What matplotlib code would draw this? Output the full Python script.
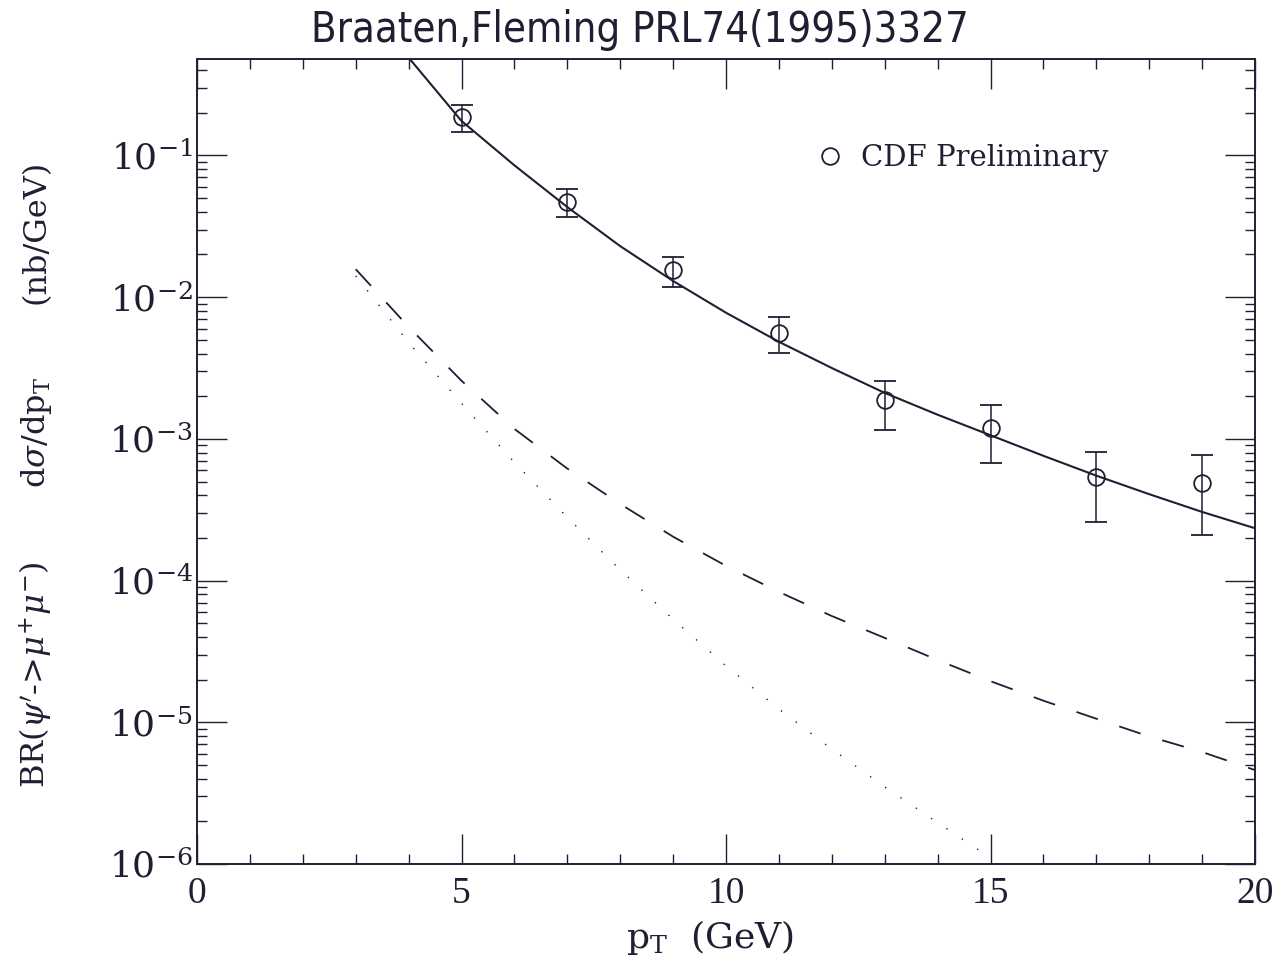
import numpy as np
import matplotlib
matplotlib.use("Agg")
import matplotlib.pyplot as plt
from matplotlib import font_manager as fm
from matplotlib.lines import Line2D
from matplotlib.ticker import MultipleLocator, LogLocator, FuncFormatter, NullFormatter

# CDF preliminary psi' points (pT in GeV, nb/GeV)
pt_data = [5, 7, 9, 11, 13, 15, 17, 19]
y_data = [0.188, 0.0472, 0.01556, 0.00561, 0.00188, 0.00120, 0.000536, 0.000491]
y_hi = [0.227, 0.0577, 0.0191, 0.00728, 0.00258, 0.00173, 0.000813, 0.000769]
y_lo = [0.147, 0.0370, 0.01175, 0.00405, 0.00116, 0.000673, 0.000257, 0.000210]

# theory curves
solid_x = [3.9, 4, 5, 6, 7, 8, 9, 10, 11, 12, 13, 14, 15, 16, 17, 18, 19, 20]
solid_y = [0.543, 0.490, 0.175, 0.0851, 0.0432, 0.0229, 0.0130, 0.00776, 0.00484,
           0.00316, 0.00211, 0.00148, 0.00106, 0.000759, 0.000550, 0.000407,
           0.000305, 0.000234]

dash_x = [3, 4, 5, 6, 7, 8, 9, 10, 11, 12, 13, 14, 15, 16, 17, 18, 19, 20]
dash_y = [0.01574, 0.00617, 0.00257, 0.001175, 0.000617, 0.000347, 0.000204,
          0.000127, 8.32e-5, 5.62e-5, 3.94e-5, 2.75e-5, 1.95e-5, 1.42e-5,
          1.06e-5, 7.94e-6, 6.17e-6, 4.60e-6]

dot_x = [3, 4, 5, 6, 7, 8, 9, 10, 11, 12, 13, 14, 14.9]
dot_y = [0.01413, 0.00479, 0.001778, 0.000682, 0.000279, 0.000119, 5.33e-5,
         2.50e-5, 1.24e-5, 6.47e-6, 3.50e-6, 1.96e-6, 1.17e-6]

ylabel_parts = [r"BR($\psi'$->$\mu^{+}\mu^{-}$)", r"d$\sigma$/dp$_{\rm T}$", "(nb/GeV)"]

INK = "#221d33"
SERIF = ["DejaVu Serif"]
plt.rcParams["mathtext.fontset"] = "dejavuserif"

# a narrow sans for the title, if one is installed
narrow = [f for f in fm.fontManager.ttflist
          if ("Narrow" in f.name or f.stretch in ("condensed", "semi-condensed"))
          and f.weight in (400, "normal", "regular") and f.style == "normal"
          and "Mono" not in f.name and "Serif" not in f.name]
if narrow:
    title_font = fm.FontProperties(fname=narrow[0].fname, size=30)
else:
    title_font = fm.FontProperties(family="Liberation Sans", size=27)

fig = plt.figure(figsize=(12.85, 9.63), dpi=100)
ax = fig.add_axes([197 / 1285, 1 - 864 / 963, 1058 / 1285, 804.5 / 963])

ax.plot(solid_x, solid_y, color=INK, lw=1.5)
ax.plot(dash_x, dash_y, color=INK, lw=1.3, ls=(0, (12.5, 12.5)))
ax.plot(dot_x, dot_y, color=INK, lw=1.0, ls=(0, (1, 12.3)))

y_data = np.array(y_data)
yerr = [y_data - np.array(y_lo), np.array(y_hi) - y_data]
ax.errorbar(pt_data, y_data, yerr=yerr, fmt="o", ms=12, mfc="none", mec=INK,
            mew=1.3, ecolor=INK, elinewidth=1.1, capsize=7.8, capthick=1.1)

ax.set_xlim(0, 20)
ax.set_yscale("log")
ax.set_ylim(1e-6, 0.475)

ax.xaxis.set_major_locator(MultipleLocator(5))
ax.xaxis.set_minor_locator(MultipleLocator(1))
ax.yaxis.set_major_locator(LogLocator(base=10, numticks=12))
ax.yaxis.set_minor_locator(LogLocator(base=10, subs=np.arange(2, 10), numticks=12))
ax.yaxis.set_minor_formatter(NullFormatter())
ax.yaxis.set_major_formatter(FuncFormatter(
    lambda v, p: r"$\mathregular{10^{%d}}$" % int(round(np.log10(v)))))

ax.tick_params(which="both", direction="in", top=True, right=True, color=INK,
               width=1.0)
ax.tick_params(which="major", length=21.6)
ax.tick_params(which="minor", length=7.2)
ax.tick_params(axis="x", pad=9, labelsize=27, labelcolor=INK)
ax.tick_params(axis="y", pad=3, labelsize=26, labelcolor=INK)
for lab in ax.get_xticklabels():
    lab.set_family(["Liberation Serif", "DejaVu Serif"])
for lab in ax.get_yticklabels():
    lab.set_family(SERIF)
for sp in ax.spines.values():
    sp.set_linewidth(1.4)
    sp.set_color(INK)

fig.text(640 / 1285, 1 - 30 / 963, "Braaten,Fleming PRL74(1995)3327",
         ha="center", va="center", color=INK, fontproperties=title_font)

# y label in three groups, spread like the original
for txt, yc in zip(ylabel_parts, [675, 432, 232]):
    fig.text(36 / 1285, 1 - yc / 963, txt, rotation=90, ha="center",
             va="center", fontsize=23, color=INK, family=SERIF)

fig.text(710 / 1285, 1 - 937 / 963, r"p$_{\rm T}$  (GeV)", ha="center",
         va="center", fontsize=26, color=INK, family=SERIF)

handle = Line2D([], [], marker="o", ls="none", ms=12, mfc="none", mec=INK, mew=1.3)
leg = ax.legend([handle], ["CDF Preliminary"], loc="center left",
                bbox_to_anchor=(0.587, 0.8776), frameon=False, borderpad=0,
                borderaxespad=0, handlelength=0.8, handletextpad=0.68,
                prop={"family": SERIF, "size": 21})
for t in leg.get_texts():
    t.set_color(INK)

fig.savefig("out.png", dpi=100)
